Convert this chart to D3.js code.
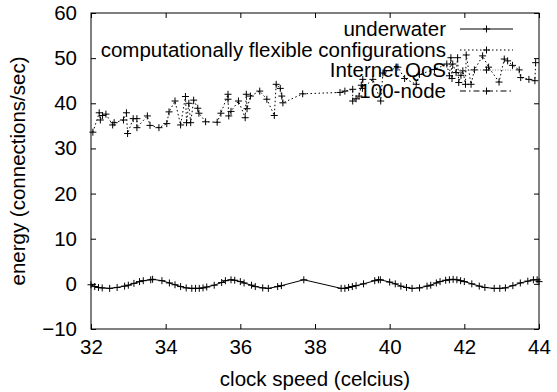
<!DOCTYPE html>
<html>
<head>
<meta charset="utf-8">
<script src="https://cdn.jsdelivr.net/npm/d3@7"></script>
<style>
  body { margin: 0; background: #fff; }
  text { font-family: "Liberation Sans", Arial, sans-serif; }
</style>
</head>
<body>
<div id="wrapper"></div>
<script>
// series names, legend order
const seriesNames = ['underwater', 'computationally flexible configurations', 'Internet QoS', '100-node']

const xTicks = [32, 34, 36, 38, 40, 42, 44]
const yTicks = [-10, 0, 10, 20, 30, 40, 50, 60]

// underwater: [clock speed, energy]
const underwater = [
    [32.0, -0.2], [32.1, -0.6], [32.2, -0.8], [32.3, -0.9], [32.5, -1.0], [32.7, -0.8],
    [32.9, -0.5], [33.0, -0.3], [33.15, 0.1], [33.3, 0.5], [33.4, 0.7], [33.6, 0.9],
    [33.65, 1.0], [33.9, 0.7], [34.1, 0.2], [34.25, -0.2], [34.4, -0.6], [34.55, -0.9],
    [34.7, -1.0], [34.8, -1.0], [34.9, -1.0], [35.0, -0.9], [35.1, -0.7], [35.3, -0.3],
    [35.5, 0.3], [35.6, 0.7], [35.75, 0.9], [35.85, 0.8], [36.0, 0.5], [36.1, 0.2],
    [36.3, -0.3], [36.4, -0.6], [36.6, -0.9], [36.75, -1.0], [37.0, -0.6], [37.1, -0.4],
    [37.7, 0.9], [38.7, -1.0], [38.8, -1.0], [38.9, -0.8], [39.0, -0.6], [39.1, -0.4],
    [39.3, 0.0], [39.6, 0.7], [39.7, 0.9], [39.75, 0.9], [40.0, 0.4], [40.15, 0.0],
    [40.3, -0.5], [40.45, -0.8], [40.6, -1.0], [40.8, -0.9], [41.0, -0.5], [41.1, -0.3],
    [41.25, 0.2], [41.35, 0.5], [41.5, 0.8], [41.6, 0.9], [41.7, 1.0], [41.8, 0.9],
    [41.9, 0.7], [42.0, 0.5], [42.2, 0.0], [42.4, -0.5], [42.55, -0.8], [42.8, -1.0],
    [42.95, -1.0], [43.1, -0.9], [43.3, -0.4], [43.5, 0.2], [43.7, 0.6], [43.85, 0.9],
    [43.95, 0.9], [44.0, 0.5]
]

// computationally flexible configurations
const flexible = [
    [32.05, 33.6], [32.22, 37.9], [32.25, 36.3], [32.31, 37.3], [32.4, 37.6], [32.58, 35.2],
    [32.62, 35.7], [32.87, 36.3], [32.95, 37.9], [32.98, 33.3], [33.13, 36.6], [33.23, 36.6],
    [33.23, 34.6], [33.51, 37.2], [33.58, 35.1], [33.82, 34.6], [34.03, 35.5], [34.09, 38.1],
    [34.25, 40.5], [34.4, 35.2], [34.53, 41.5], [34.56, 35.7], [34.62, 40.0], [34.67, 35.7],
    [34.75, 40.7], [34.86, 38.9], [34.89, 37.8], [35.07, 35.9], [35.38, 35.8], [35.48, 37.8],
    [35.67, 42.0], [35.67, 40.9], [35.69, 37.2], [35.75, 38.2], [35.95, 40.5], [36.13, 36.8],
    [36.16, 42.0], [36.18, 38.8], [36.27, 41.6], [36.52, 42.7], [36.71, 40.9], [36.91, 37.3],
    [36.96, 44.2], [37.07, 43.3], [37.11, 41.6], [37.14, 40.1], [37.67, 42.1], [38.67, 42.4],
    [38.8, 42.7], [39.01, 43.1], [39.01, 40.5], [39.1, 41.0], [39.18, 41.6], [39.24, 44.0],
    [39.28, 45.3], [39.27, 43.3], [39.55, 45.3], [39.76, 40.5], [39.82, 46.7], [40.22, 48.0],
    [40.4, 45.5], [40.71, 44.2], [40.8, 46.4], [41.2, 47.5], [41.53, 48.7], [41.6, 46.1],
    [41.64, 50.1], [41.67, 45.5], [41.69, 48.7], [41.78, 46.8], [41.82, 50.1], [41.85, 44.6],
    [41.91, 46.2], [41.96, 47.2], [42.03, 44.2], [42.05, 50.7], [42.18, 44.2], [42.27, 47.4],
    [42.49, 50.5], [42.65, 48.0], [42.93, 44.7], [43.07, 49.8], [43.16, 49.4], [43.29, 48.4],
    [43.47, 47.4], [43.51, 45.7], [43.73, 45.3], [43.89, 45.0], [43.91, 49.0]
]

const internetQoS = []
const node100 = []

const width = 557
const height = 392
const margin = { top: 13, right: 18, bottom: 63, left: 91 }
const fontSize = 20.5

const svg = d3.select('#wrapper').append('svg')
    .attr('width', width)
    .attr('height', height)

const xScale = d3.scaleLinear()
    .domain([32, 44])
    .range([margin.left, width - margin.right])

const yScale = d3.scaleLinear()
    .domain([-10, 60])
    .range([height - margin.bottom, margin.top])

// inward ticks on all four sides, like gnuplot
const tick = 5
svg.append('g')
    .attr('transform', `translate(0,${height - margin.bottom})`)
    .call(d3.axisBottom(xScale).tickValues(xTicks).tickSizeInner(-tick).tickSizeOuter(0).tickPadding(10))
svg.append('g')
    .attr('transform', `translate(0,${margin.top})`)
    .call(d3.axisTop(xScale).tickValues(xTicks).tickSizeInner(-tick).tickSizeOuter(0).tickFormat(''))
svg.append('g')
    .attr('transform', `translate(${margin.left},0)`)
    .call(d3.axisLeft(yScale).tickValues(yTicks).tickSizeInner(-tick).tickSizeOuter(0).tickPadding(14))
svg.append('g')
    .attr('transform', `translate(${width - margin.right},0)`)
    .call(d3.axisRight(yScale).tickValues(yTicks).tickSizeInner(-tick).tickSizeOuter(0).tickFormat(''))

svg.selectAll('.domain').remove()
svg.selectAll('.tick text').attr('font-size', fontSize).attr('fill', '#000')
    .style('font-family', '"Liberation Sans", Arial, sans-serif')

svg.append('rect')
    .attr('x', margin.left)
    .attr('y', margin.top)
    .attr('width', width - margin.left - margin.right)
    .attr('height', height - margin.top - margin.bottom)
    .attr('fill', 'none')
    .attr('stroke', '#000')

// axis titles
svg.append('text')
    .attr('x', (margin.left + width - margin.right) / 2)
    .attr('y', height - 6)
    .attr('text-anchor', 'middle')
    .attr('font-size', fontSize)
    .text('clock speed (celcius)')

svg.append('text')
    .attr('transform', `translate(25,${(margin.top + height - margin.bottom) / 2}) rotate(-90)`)
    .attr('text-anchor', 'middle')
    .attr('font-size', fontSize)
    .text('energy (connections/sec)')

const styles = [
    { data: underwater, dash: null, color: '#000' },
    { data: flexible, dash: '1.5,2.5', color: '#000' },
    { data: internetQoS, dash: '1,1.5', color: '#888' },
    { data: node100, dash: '6,3,1.5,3', color: '#000' }
]

const line = d3.line()
    .x(d => xScale(d[0]))
    .y(d => yScale(d[1]))

const plus = (g, x, y) => {
    g.append('path')
        .attr('d', `M${x - 3.5},${y}h7M${x},${y - 3.5}v7`)
        .attr('stroke', '#000')
        .attr('stroke-width', 1)
}

styles.forEach((s, i) => {
    const g = svg.append('g')
    g.append('path')
        .datum(s.data)
        .attr('d', line)
        .attr('fill', 'none')
        .attr('stroke', s.color)
        .attr('stroke-width', 1)
        .attr('stroke-dasharray', s.dash)
    s.data.forEach(d => plus(g, xScale(d[0]), yScale(d[1])))
})

// legend
const legendX = 446
const legendY = [29, 50, 70, 91]
styles.forEach((s, i) => {
    const g = svg.append('g')
    g.append('text')
        .attr('x', legendX)
        .attr('y', legendY[i])
        .attr('dy', '0.35em')
        .attr('text-anchor', 'end')
        .attr('font-size', fontSize)
        .text(seriesNames[i])
    g.append('line')
        .attr('x1', 460).attr('x2', 513)
        .attr('y1', legendY[i]).attr('y2', legendY[i])
        .attr('stroke', s.color)
        .attr('stroke-dasharray', s.dash)
    plus(g, 486.5, legendY[i])
})
</script>
</body>
</html>
